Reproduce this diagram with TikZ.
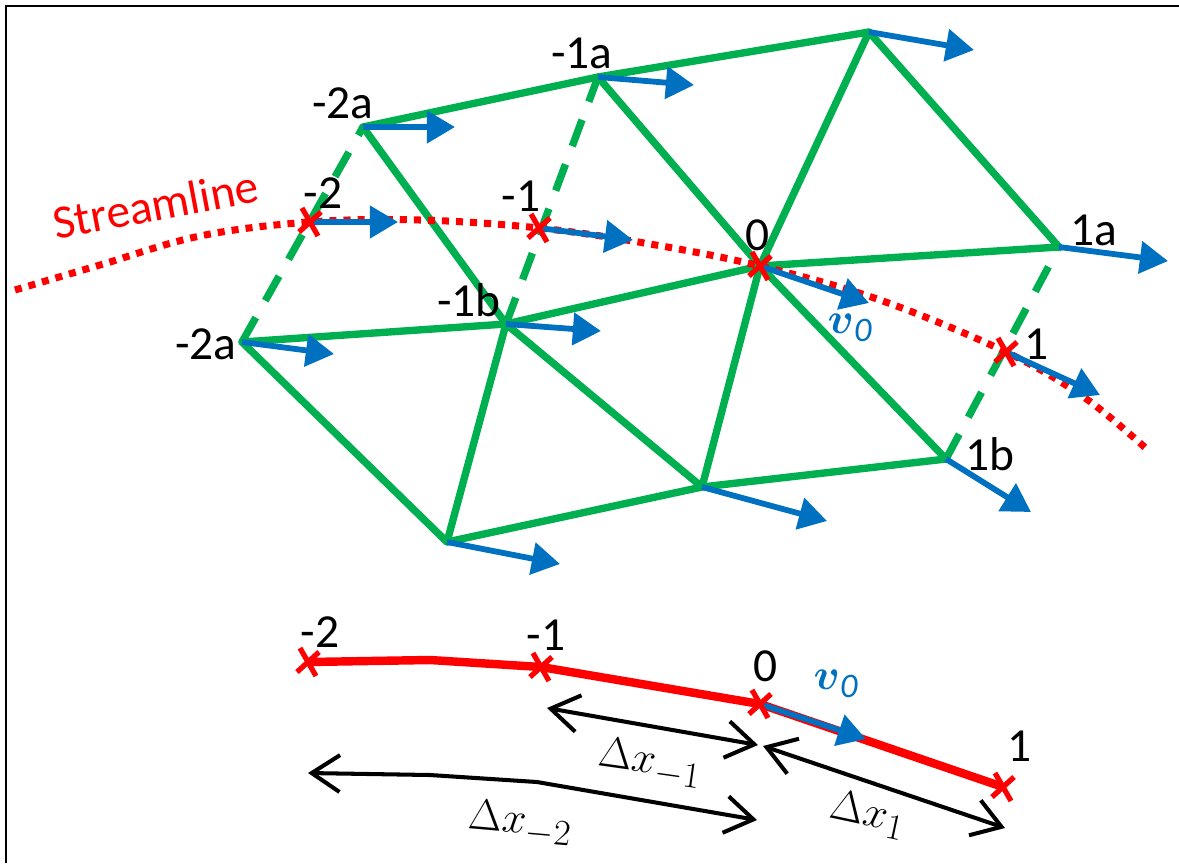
\documentclass[tikz,border=0pt]{standalone}
\usepackage{fontspec}
\usepackage{amsmath}
\setmainfont{Carlito}
\usetikzlibrary{arrows.meta}
\definecolor{mgreen}{RGB}{0,176,80}
\definecolor{mblue}{RGB}{0,112,192}
\definecolor{mred}{RGB}{255,0,0}
\begin{document}
\begin{tikzpicture}[x=0.02cm,y=-0.02cm,
 mesh/.style={mgreen, line width=4.2pt, line cap=round, line join=round},
 meshdash/.style={mgreen, line width=4.2pt, dash pattern=on 16pt off 11pt},
 vel/.style={mblue, line width=3.3pt, -{Triangle[length=16pt,width=18pt]}},
 lbl/.style={font=\fontsize{27}{32}\selectfont, inner sep=0pt},
 mlbl/.style={font=\fontsize{28}{32}\selectfont, inner sep=0pt},
 dimarr/.style={black, line width=2.3pt, line join=round, {Straight Barb[length=16pt,width=21pt]}-{Straight Barb[length=16pt,width=21pt]}},
 xmark/.pic={\draw[mred, line width=3pt] (-8,-14)--(8,14) (-11,10)--(11,-10);}
]
\useasboundingbox (0,0) rectangle (1179,863);
\draw[line width=1.2pt] (6,863) -- (6,6) -- (1179,6);

% mesh vertices
\coordinate (A1) at (363,127);
\coordinate (A2) at (598,77);
\coordinate (A3) at (869,32);
\coordinate (A4) at (1059,247);
\coordinate (B0) at (760,266);
\coordinate (B1) at (506,324);
\coordinate (B2) at (242,342);
\coordinate (C1) at (447,542);
\coordinate (C2) at (702,487);
\coordinate (C3) at (946,459);
% streamline points
\coordinate (S2) at (310,222);
\coordinate (S1) at (539,228);
\coordinate (S0) at (760,266);
\coordinate (Sp) at (1006,352);

% mesh edges
\draw[mesh] (A1) -- (A2) -- (A3) -- (A4);
\draw[mesh] (A1) -- (B1);
\draw[mesh] (A2) -- (B0) -- (A3);
\draw[mesh] (B2) -- (B1) -- (B0) -- (A4);
\draw[mesh] (B2) -- (C1) -- (B1) -- (C2) -- (B0) -- (C3);
\draw[mesh] (C1) -- (C2) -- (C3);
\draw[meshdash] (B2) -- (A1);
\draw[meshdash] (B1) -- (A2);
\draw[meshdash] (C3) -- (A4);

% streamline
\draw[mred, line width=4pt, dash pattern=on 4pt off 4pt]
 plot[smooth, tension=0.6] coordinates {(15,290) (100,265) (200,236) (310,222) (420,220) (539,228) (650,244) (760,266) (880,300) (1006,352) (1085,398) (1150,452)};
\node[lbl, text=mred, rotate=10.7, anchor=base west] (stl) at (56,240) {Streamline};

% velocity arrows
\coordinate (vA1) at (455,127);
\coordinate (vA2) at (694,85);
\coordinate (vA3) at (974,50);
\coordinate (vA4) at (1168,261);
\coordinate (vS2) at (398,222);
\coordinate (vS1) at (633,240);
\coordinate (vS0) at (869,303);
\coordinate (vSp) at (1100,395);
\coordinate (vB1) at (601,331);
\coordinate (vB2) at (334,354);
\coordinate (vC1) at (560,564);
\coordinate (vC2) at (827,521);
\coordinate (vC3) at (1031,512);
\foreach \p in {A1,A2,A3,A4,S2,S1,S0,Sp,B1,B2,C1,C2,C3}
  \draw[vel] (\p) -- (v\p);

% crosses
\pic at (S2) {xmark};
\pic at (S1) {xmark};
\pic at (S0) {xmark};
\pic at (Sp) {xmark};

% labels (mesh)
\node[lbl] (lA1) at (343,103) {-2a};
\node[lbl] (lA2) at (582,53) {-1a};
\node[lbl] (lS2) at (323,193) {-2};
\node[lbl] (lS1) at (521,196) {-1};
\node[lbl] (lS0) at (758,235) {0};
\node[lbl] (lA4) at (1094,230) {1a};
\node[lbl] (lB1) at (469,300) {-1b};
\node[lbl] (lB2) at (206,344) {-2a};
\node[lbl] (lSp) at (1037,344) {1};
\node[lbl] (lC3) at (990,454) {1b};
\node[mlbl, text=mblue] (lv) at (850,328) {$\boldsymbol{v}_{\mathit{0}}$};

% bottom streamline
\coordinate (P2) at (308,662);
\coordinate (Pk) at (430,660);
\coordinate (P1) at (541,667);
\coordinate (P0) at (760,704);
\coordinate (Pp) at (1003,787);
\draw[mred, line width=4.8pt, line join=round] (P2) -- (Pk) -- (P1) -- (P0) -- (Pp);
\coordinate (vP0) at (866,739);
\draw[vel] (P0) -- (vP0);
\pic at (P2) {xmark};
\pic at (P1) {xmark};
\pic at (P0) {xmark};
\pic at (Pp) {xmark};
\node[lbl] (lP2) at (320,632) {-2};
\node[lbl] (lP1) at (546,635) {-1};
\node[lbl] (lP0) at (766,666) {0};
\node[lbl] (lPp) at (1020,746) {1};
\node[mlbl, text=mblue] (lv2) at (836,684) {$\boldsymbol{v}_{\mathit{0}}$};

% distance arrows
\coordinate (d1a) at (547,708);
\coordinate (d1b) at (758,745);
\coordinate (d2a) at (308,773);
\coordinate (d2k) at (430,775);
\coordinate (d2m) at (537,782);
\coordinate (d2b) at (757,820);
\coordinate (d3a) at (763,746);
\coordinate (d3b) at (1005,828);
\draw[dimarr] (d1a) -- (d1b);
\draw[dimarr] (d2a) -- (d2k) -- (d2m) -- (d2b);
\draw[dimarr] (d3a) -- (d3b);
\node[mlbl, rotate=-8] (ld1) at (650,764) {$\Delta x_{-1}$};
\node[mlbl, rotate=-5] (ld2) at (520,824) {$\Delta x_{-2}$};
\node[mlbl, rotate=-12] (ld3) at (868,815) {$\Delta x_{1}$};
\end{tikzpicture}
\end{document}
